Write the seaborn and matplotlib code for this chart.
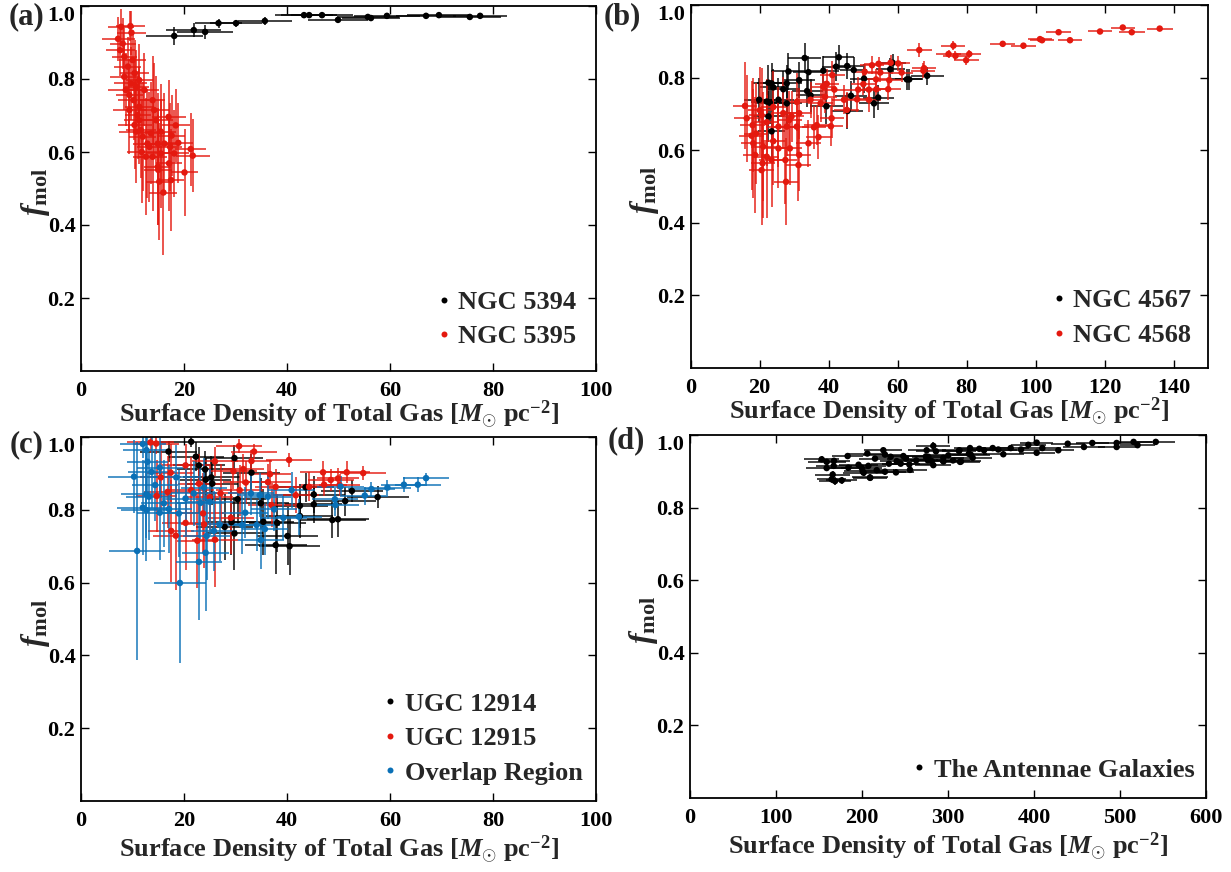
import numpy as np
import pandas as pd
import matplotlib
matplotlib.use("Agg")
import matplotlib.pyplot as plt
import seaborn as sns
from matplotlib.lines import Line2D
from matplotlib.ticker import FormatStrFormatter

# ---------------- data ----------------
# (a) NGC 5394 / NGC 5395
a_n5394_x = [18.1, 21.9, 24.1, 26.7, 30.1, 35.7, 43.3, 44.3, 46.8, 49.9, 55.7, 56.3, 59.4, 67.0, 69.5, 75.5, 77.5]
a_n5394_y = [0.918, 0.934, 0.929, 0.953, 0.953, 0.959, 0.975, 0.975, 0.975, 0.962, 0.970, 0.967, 0.973, 0.973, 0.975, 0.970, 0.973]
a_n5394_xe = [5.5, 5.3, 5.4, 4.5, 5.0, 5.3, 5.6, 5.5, 6.0, 5.8, 6.0, 5.6, 6.4, 5.8, 6.2, 6.0, 5.2]
a_n5394_ye = [0.025, 0.02, 0.02, 0.012, 0.01, 0.01, 0.006, 0.006, 0.006, 0.006, 0.005, 0.005, 0.005, 0.004, 0.004, 0.004, 0.004]

a_n5395_x = [7.2, 7.8, 9.6, 9.8, 7.6, 8.1, 8.4, 9.1, 10.0, 10.4, 9.7, 10.7, 10.2, 9.4, 11.3, 11.0, 10.4, 11.6,
             11.3, 10.7, 12.0, 13.9, 14.2, 14.6, 13.6, 14.9, 13.3, 13.9, 14.9, 15.2, 16.0, 15.5, 17.0, 18.4,
             17.6, 18.9, 17.3, 18.1, 17.1, 17.5, 20.1, 21.3, 21.7, 15.5, 12.9, 12.6, 15.0, 16.2, 9.4, 8.4,
             11.3, 12.3, 8.7, 11.8]
a_n5395_y = [0.910, 0.943, 0.945, 0.927, 0.879, 0.897, 0.861, 0.834, 0.852, 0.816, 0.788, 0.779, 0.742, 0.756,
             0.724, 0.701, 0.674, 0.660, 0.687, 0.656, 0.642, 0.742, 0.715, 0.687, 0.651, 0.623, 0.614, 0.587,
             0.560, 0.519, 0.489, 0.596, 0.696, 0.673, 0.645, 0.625, 0.614, 0.596, 0.569, 0.523, 0.544, 0.608,
             0.590, 0.656, 0.623, 0.587, 0.551, 0.623, 0.715, 0.806, 0.797, 0.770, 0.770, 0.600]
a_n5395_xe = [3.2, 2.5, 2.8, 2.9, 2.8, 2.5, 2.4, 2.6, 2.7, 2.8, 3.2, 2.6, 3.0, 2.7, 2.8, 2.5, 3.3, 2.9,
              3.0, 3.4, 2.6, 2.4, 2.9, 3.2, 2.7, 3.0, 2.5, 2.8, 2.6, 2.5, 2.7, 2.9, 3.3, 2.7,
              2.6, 2.9, 2.4, 2.8, 2.5, 2.5, 2.6, 3.0, 3.3, 3.0, 2.8, 2.5, 2.7, 3.1, 3.2, 2.8,
              2.6, 2.9, 3.4, 2.9]
a_n5395_ye = [0.06, 0.05, 0.04, 0.06, 0.07, 0.07, 0.08, 0.08, 0.08, 0.09, 0.10, 0.10, 0.11, 0.10, 0.11, 0.12, 0.12, 0.13,
              0.12, 0.14, 0.15, 0.12, 0.13, 0.12, 0.14, 0.14, 0.15, 0.15, 0.16, 0.16, 0.17, 0.15, 0.10, 0.10,
              0.11, 0.11, 0.12, 0.12, 0.13, 0.14, 0.12, 0.10, 0.10, 0.13, 0.15, 0.16, 0.15, 0.14, 0.12, 0.09,
              0.10, 0.10, 0.10, 0.14]

# (b) NGC 4567 / NGC 4568
b_n4567_x = [33.1, 43.0, 42.2, 45.4, 47.3, 38.5, 34.2, 28.4, 31.5, 50.3, 57.9, 58.6, 62.7, 63.4, 68.6, 22.6, 23.5,
             24.0, 26.9, 27.9, 33.8, 34.8, 46.5, 54.4, 53.2, 45.5, 39.4, 19.9, 22.1, 23.0, 27.9, 22.6, 23.5, 25.5]
b_n4567_y = [0.854, 0.856, 0.830, 0.832, 0.821, 0.819, 0.815, 0.817, 0.793, 0.797, 0.823, 0.841, 0.795, 0.795,
             0.805, 0.786, 0.784, 0.773, 0.768, 0.784, 0.763, 0.751, 0.750, 0.745, 0.729, 0.708, 0.721, 0.739,
             0.734, 0.731, 0.729, 0.693, 0.652, 0.739]
b_n4567_xe = [4.8, 4.5, 4.2, 4.5, 4.0, 4.5, 4.6, 5.0, 4.5, 4.0, 4.2, 4.0, 4.5, 4.0, 4.8, 4.5, 4.2,
              4.0, 4.8, 4.4, 4.5, 4.2, 4.6, 4.5, 4.4, 4.5, 4.8, 4.5, 4.6, 4.2, 4.5, 4.4, 4.0, 4.5]
b_n4567_ye = [0.04, 0.035, 0.04, 0.035, 0.035, 0.04, 0.045, 0.05, 0.05, 0.04, 0.03, 0.025, 0.03, 0.03, 0.025,
              0.05, 0.055, 0.05, 0.05, 0.05, 0.045, 0.045, 0.04, 0.035, 0.04, 0.05, 0.05, 0.06, 0.06, 0.06,
              0.06, 0.07, 0.07, 0.06]

b_n4568_x = [66.3, 76.2, 74.8, 76.8, 80.8, 79.9, 90.5, 96.5, 101.3, 101.9, 106.7, 110.0, 118.7, 125.3, 127.9, 136.0,
             67.7, 67.5, 60.2, 58.0, 54.5, 52.6, 61.2, 55.0, 50.5, 53.8, 57.6, 50.1, 53.9, 57.3, 51.7, 48.6,
             48.3, 51.7, 44.5, 41.1, 39.5, 38.5, 41.7, 39.0, 37.7, 45.3, 40.9, 36.6, 40.7, 35.8, 37.1, 34.2,
             34.8, 31.5, 29.3, 27.9, 30.8, 28.6, 31.5, 31.3, 28.8, 25.5, 27.5, 27.7, 24.0, 23.5, 20.9, 20.6,
             18.7, 18.2, 19.0, 16.3, 15.8, 18.0, 20.6, 22.1, 20.1, 24.0, 25.5, 26.9, 30.8, 21.1, 22.1, 17.7]
b_n4568_y = [0.876, 0.888, 0.865, 0.860, 0.865, 0.848, 0.893, 0.888, 0.906, 0.903, 0.925, 0.903, 0.927, 0.938,
             0.925, 0.935, 0.826, 0.819, 0.839, 0.841, 0.838, 0.834, 0.814, 0.814, 0.816, 0.795, 0.793, 0.782,
             0.768, 0.768, 0.767, 0.767, 0.740, 0.739, 0.739, 0.807, 0.783, 0.775, 0.767, 0.747, 0.729, 0.711,
             0.688, 0.669, 0.666, 0.663, 0.636, 0.619, 0.739, 0.702, 0.693, 0.665, 0.665, 0.683, 0.587, 0.559,
             0.605, 0.605, 0.573, 0.513, 0.625, 0.573, 0.564, 0.545, 0.587, 0.619, 0.646, 0.688, 0.722, 0.669,
             0.696, 0.677, 0.710, 0.719, 0.665, 0.702, 0.733, 0.610, 0.582, 0.640]
b_n4568_xe = [3.6, 3.5, 3.7, 3.6, 3.5, 3.6, 3.6, 3.7, 3.6, 3.5, 3.7, 3.6, 3.6, 3.5, 3.7, 3.8,
              3.6, 3.5, 3.5, 3.6, 3.5, 3.6, 3.4, 3.6, 3.5, 3.6, 3.5, 3.6, 3.5, 3.6, 3.5, 3.6,
              3.5, 3.6, 3.5, 3.6, 3.5, 3.6, 3.5, 3.6, 3.5, 3.6, 3.5, 3.6, 3.5, 3.6, 3.5, 3.6,
              3.5, 3.6, 3.5, 3.6, 3.5, 3.6, 3.5, 3.6, 3.5, 3.6, 3.5, 3.6, 3.5, 3.6, 3.5, 3.6,
              3.5, 3.6, 3.5, 3.6, 3.5, 3.6, 3.5, 3.6, 3.5, 3.6, 3.5, 3.6, 3.5, 3.6, 3.5, 3.6]
b_n4568_ye = [0.018, 0.012, 0.012, 0.012, 0.012, 0.012, 0.008, 0.008, 0.008, 0.008, 0.007, 0.007, 0.006, 0.006,
              0.006, 0.006, 0.02, 0.02, 0.02, 0.02, 0.02, 0.025, 0.025, 0.025, 0.025, 0.03, 0.03, 0.03,
              0.03, 0.03, 0.03, 0.035, 0.035, 0.035, 0.04, 0.04, 0.04, 0.045, 0.045, 0.045, 0.05, 0.05,
              0.055, 0.055, 0.055, 0.06, 0.06, 0.065, 0.05, 0.07, 0.07, 0.08, 0.08, 0.08, 0.10, 0.10,
              0.10, 0.11, 0.12, 0.12, 0.12, 0.13, 0.15, 0.15, 0.16, 0.15, 0.14, 0.12, 0.12, 0.13,
              0.13, 0.12, 0.12, 0.10, 0.11, 0.10, 0.08, 0.15, 0.17, 0.15]

# (c) UGC 12914 / UGC 12915 / Overlap Region
c_u12914_x = [21.4, 17.0, 22.3, 29.8, 22.9, 24.1, 25.3, 25.5, 33.1, 30.4, 27.9, 29.2, 29.8, 35.4, 38.1, 34.9,
              40.1, 37.8, 40.5, 42.5, 42.5, 45.2, 45.2, 48.8, 49.9, 51.3, 52.6, 57.6, 43.6, 24.2]
c_u12914_y = [0.987, 0.960, 0.946, 0.942, 0.922, 0.911, 0.889, 0.872, 0.902, 0.829, 0.753, 0.766, 0.735, 0.767,
              0.764, 0.818, 0.728, 0.703, 0.700, 0.783, 0.811, 0.842, 0.815, 0.772, 0.774, 0.824, 0.852, 0.835,
              0.862, 0.883]
c_u12914_xe = [6.0, 5.5, 5.5, 5.5, 5.0, 5.5, 5.5, 5.0, 5.5, 5.5, 5.5, 5.0, 5.5, 6.0, 5.5, 5.5,
               6.0, 6.0, 6.0, 6.5, 5.5, 6.0, 5.5, 6.5, 6.0, 6.0, 6.0, 6.0, 5.5, 5.0]
c_u12914_ye = [0.015, 0.03, 0.04, 0.035, 0.05, 0.05, 0.06, 0.06, 0.05, 0.07, 0.09, 0.09, 0.10, 0.09, 0.08, 0.07,
               0.08, 0.08, 0.08, 0.06, 0.06, 0.05, 0.05, 0.05, 0.05, 0.04, 0.03, 0.03, 0.04, 0.06]

c_u12915_x = [13.5, 14.6, 30.7, 33.6, 33.1, 26.0, 20.3, 29.6, 31.5, 36.7, 40.4, 32.0, 36.3, 37.8, 30.8, 47.0,
              48.5, 49.9, 51.6, 47.2, 50.2, 44.3, 41.7, 27.1, 25.0, 21.4, 22.9, 17.4, 15.5, 23.7, 20.3, 17.5,
              18.4, 22.6, 26.0, 23.9, 29.1, 37.0, 14.7, 16.8, 54.8]
c_u12915_y = [0.985, 0.982, 0.975, 0.960, 0.934, 0.933, 0.922, 0.906, 0.912, 0.898, 0.937, 0.875, 0.876, 0.863,
              0.854, 0.903, 0.882, 0.886, 0.903, 0.869, 0.868, 0.863, 0.840, 0.845, 0.835, 0.854, 0.872, 0.902,
              0.889, 0.790, 0.764, 0.742, 0.729, 0.715, 0.718, 0.760, 0.778, 0.813, 0.838, 0.849, 0.901]
c_u12915_xe = [4.5, 4.5, 4.5, 4.5, 4.0, 4.5, 4.5, 4.5, 4.0, 4.0, 4.5, 4.5, 4.5, 4.0, 4.5, 4.5,
               4.5, 4.0, 4.5, 4.5, 4.0, 4.5, 4.5, 4.5, 4.5, 4.5, 4.0, 4.5, 4.0, 4.5, 4.5, 4.5,
               4.5, 4.0, 4.5, 4.5, 4.5, 4.5, 4.0, 4.5, 4.5]
c_u12915_ye = [0.03, 0.03, 0.02, 0.02, 0.03, 0.04, 0.06, 0.05, 0.04, 0.04, 0.02, 0.06, 0.05, 0.05, 0.07, 0.03,
               0.03, 0.03, 0.03, 0.03, 0.03, 0.04, 0.05, 0.08, 0.09, 0.09, 0.08, 0.08, 0.09, 0.11, 0.13, 0.14,
               0.15, 0.13, 0.13, 0.12, 0.10, 0.06, 0.10, 0.10, 0.02]

c_overlap_x = [12.0, 12.7, 12.9, 13.7, 10.3, 15.3, 14.4, 12.7, 13.2, 12.0, 12.7, 16.1, 15.3, 17.1, 18.5, 19.0,
               20.3, 21.9, 23.9, 23.2, 25.0, 26.9, 24.4, 25.8, 24.2, 22.9, 19.2, 10.9, 31.3, 33.0, 34.7, 36.3,
               31.9, 34.1, 35.7, 34.9, 39.3, 40.9, 42.3, 37.5, 49.3, 49.4, 50.4, 55.1, 56.4, 59.5, 62.7, 65.4, 67.0]
c_overlap_y = [0.981, 0.964, 0.932, 0.904, 0.891, 0.916, 0.868, 0.843, 0.836, 0.806, 0.799, 0.818, 0.792, 0.802,
               0.889, 0.790, 0.831, 0.845, 0.861, 0.819, 0.822, 0.760, 0.728, 0.742, 0.682, 0.657, 0.599, 0.687,
               0.758, 0.845, 0.840, 0.836, 0.792, 0.758, 0.747, 0.717, 0.778, 0.854, 0.781, 0.801, 0.829, 0.813,
               0.864, 0.839, 0.857, 0.861, 0.869, 0.869, 0.887]
c_overlap_xe = [4.5, 4.5, 4.0, 4.5, 5.0, 4.5, 4.5, 5.0, 4.5, 5.0, 5.0, 4.5, 4.5, 4.5, 4.5, 4.5,
                4.5, 4.5, 4.5, 4.5, 4.5, 4.5, 4.5, 4.5, 4.5, 4.5, 5.0, 5.5, 4.5, 4.5, 4.5, 4.5,
                4.5, 4.5, 4.5, 4.5, 4.5, 4.5, 4.5, 4.5, 4.5, 4.5, 4.5, 4.5, 4.5, 4.5, 4.5, 4.5, 4.5]
c_overlap_ye = [0.04, 0.06, 0.08, 0.10, 0.10, 0.08, 0.10, 0.12, 0.12, 0.13, 0.14, 0.12, 0.13, 0.12, 0.09, 0.12,
                0.10, 0.09, 0.08, 0.10, 0.09, 0.10, 0.12, 0.11, 0.16, 0.16, 0.22, 0.30, 0.08, 0.06, 0.06, 0.06,
                0.07, 0.07, 0.07, 0.08, 0.06, 0.05, 0.05, 0.06, 0.03, 0.03, 0.03, 0.025, 0.02, 0.02, 0.02, 0.02, 0.015]

# (d) The Antennae Galaxies
d_ant_x = [153.1, 158.9, 167.4, 158.9, 167.1, 183.3, 184.1, 165.9, 164.7, 168.6, 176.4, 199.6, 200.8, 207.4, 209.3,
           206.2, 215.1, 224.8, 226.7, 217.1, 226.7, 239.5, 240.3, 248.1, 251.2, 255.8, 255.0, 233.3, 275.2, 277.1,
           282.9, 286.0, 282.9, 294.6, 300.4, 313.2, 314.0, 325.6, 326.4, 336.4, 341.9, 352.0, 358.5, 364.3, 372.9,
           384.9, 393.4, 403.1, 409.7, 403.1, 428.3, 439.2, 458.1, 467.8, 496.1, 496.1, 515.8, 520.4, 541.6, 196.0,
           201.9, 209.5, 231.3, 245.0, 263.0, 274.3, 276.6, 281.1, 294.7, 305.8, 315.1, 328.7, 324.2, 312.8]
d_ant_y = [0.933, 0.926, 0.929, 0.909, 0.915, 0.942, 0.910, 0.891, 0.878, 0.873, 0.875, 0.910, 0.900, 0.915, 0.883,
           0.949, 0.935, 0.958, 0.946, 0.903, 0.899, 0.897, 0.928, 0.942, 0.935, 0.904, 0.919, 0.940, 0.958, 0.940,
           0.970, 0.955, 0.917, 0.937, 0.944, 0.958, 0.926, 0.964, 0.946, 0.962, 0.958, 0.964, 0.960, 0.947, 0.964,
           0.960, 0.973, 0.979, 0.964, 0.951, 0.958, 0.976, 0.967, 0.978, 0.978, 0.967, 0.981, 0.972, 0.981, 0.918,
           0.896, 0.882, 0.921, 0.921, 0.930, 0.941, 0.930, 0.928, 0.927, 0.930, 0.927, 0.937, 0.948, 0.956]
d_ant_xe = [20, 22, 19, 24, 21, 18, 23, 20, 17, 19, 18, 24, 22, 20, 21, 23, 19, 22, 25, 20, 24, 21, 19, 23, 22,
            20, 24, 21, 22, 19, 20, 23, 21, 24, 22, 20, 23, 19, 22, 21, 20, 18, 22, 24, 21, 23, 20, 19, 22, 21,
            18, 20, 24, 19, 26, 22, 21, 20, 22, 23, 24, 20, 21, 22, 25, 23, 21, 24, 22, 20, 23, 22, 21, 20]
d_ant_ye = [0.008, 0.008, 0.008, 0.009, 0.008, 0.007, 0.008, 0.010, 0.010, 0.010, 0.009, 0.008, 0.008, 0.008, 0.009,
            0.007, 0.007, 0.006, 0.007, 0.008, 0.008, 0.008, 0.007, 0.006, 0.007, 0.008, 0.007, 0.007, 0.006, 0.007,
            0.010, 0.006, 0.008, 0.006, 0.006, 0.005, 0.007, 0.005, 0.006, 0.005, 0.005, 0.005, 0.005, 0.006, 0.005,
            0.005, 0.005, 0.008, 0.005, 0.006, 0.005, 0.004, 0.004, 0.004, 0.004, 0.004, 0.004, 0.004, 0.004, 0.007,
            0.008, 0.008, 0.007, 0.007, 0.006, 0.006, 0.006, 0.006, 0.006, 0.006, 0.006, 0.005, 0.005, 0.005]

BLACK = "#000000"
RED = "#e4190f"
BLUE = "#0a70b6"

panels = [
    dict(tag="(a)", xlim=(0, 100), xstep=20, xmax_tick=100,
         series=[("NGC 5394", a_n5394_x, a_n5394_y, a_n5394_xe, a_n5394_ye, BLACK),
                 ("NGC 5395", a_n5395_x, a_n5395_y, a_n5395_xe, a_n5395_ye, RED)],
         rect=[81, 6, 596, 371], leg=(0.962, 0.062), tagpos=(26, 17)),
    dict(tag="(b)", xlim=(0, 150), xstep=20, xmax_tick=140,
         series=[("NGC 4567", b_n4567_x, b_n4567_y, b_n4567_xe, b_n4567_ye, BLACK),
                 ("NGC 4568", b_n4568_x, b_n4568_y, b_n4568_xe, b_n4568_ye, RED)],
         rect=[690.5, 5, 1208, 368], leg=(0.968, 0.058), tagpos=(622, 17)),
    dict(tag="(c)", xlim=(0, 100), xstep=20, xmax_tick=100,
         series=[("UGC 12914", c_u12914_x, c_u12914_y, c_u12914_xe, c_u12914_ye, BLACK),
                 ("UGC 12915", c_u12915_x, c_u12915_y, c_u12915_xe, c_u12915_ye, RED),
                 ("Overlap Region", c_overlap_x, c_overlap_y, c_overlap_xe, c_overlap_ye, BLUE)],
         rect=[81, 437, 596, 801], leg=(0.974, 0.045), tagpos=(27, 445)),
    dict(tag="(d)", xlim=(0, 600), xstep=100, xmax_tick=600,
         series=[("The Antennae Galaxies", d_ant_x, d_ant_y, d_ant_xe, d_ant_ye, BLACK)],
         rect=[690, 435, 1206, 798], leg=(0.978, 0.045), tagpos=(626, 441)),
]

sns.set_style("ticks")
plt.rcParams["font.family"] = ["Liberation Serif", "DejaVu Serif"]
plt.rcParams["font.weight"] = "bold"
plt.rcParams["mathtext.fontset"] = "custom"
plt.rcParams["mathtext.rm"] = "Liberation Serif:bold"
plt.rcParams["mathtext.bf"] = "Liberation Serif:bold"
plt.rcParams["mathtext.it"] = "Liberation Serif:italic:bold"

W, H = 1231, 872
fig = plt.figure(figsize=(W / 100, H / 100), dpi=100)

for p in panels:
    l, t, r, b = p["rect"]
    ax = fig.add_axes([l / W, 1 - b / H, (r - l) / W, (b - t) / H])
    handles, labels = [], []
    for name, xs, ys, xe, ye, col in p["series"]:
        df = pd.DataFrame({"x": xs, "y": ys, "xe": xe, "ye": ye})
        ax.errorbar(df["x"], df["y"], xerr=df["xe"], yerr=df["ye"], fmt="none",
                    ecolor=col, elinewidth=1.3, alpha=0.8, capsize=0, zorder=2)
        sns.scatterplot(data=df, x="x", y="y", ax=ax, color=col, s=22,
                        edgecolor="none", linewidth=0, legend=False, zorder=3)
        handles.append(Line2D([], [], ls="", marker="o", markersize=4.3,
                              color=col, markeredgewidth=0))
        labels.append(name)
    ax.set_xlim(*p["xlim"])
    ax.set_ylim(0, 1.0)
    ax.set_xticks(np.arange(0, p["xmax_tick"] + 1, p["xstep"]))
    ax.set_yticks([0.2, 0.4, 0.6, 0.8, 1.0])
    ax.yaxis.set_major_formatter(FormatStrFormatter("%.1f"))
    ax.xaxis.set_major_formatter(FormatStrFormatter("%d"))
    ax.tick_params(direction="in", top=True, right=True, length=6, width=1.0,
                   labelsize=16, colors="black")
    ax.tick_params(axis="y", pad=4)
    ax.tick_params(axis="x", pad=7)
    for s in ax.spines.values():
        s.set_linewidth(1.3)
        s.set_color("black")
    ax.set_xlabel(r"Surface Density of Total Gas [$M_{\odot}$ pc$^{\mathbf{-2}}$]",
                  fontsize=19, fontweight="bold")
    ax.set_ylabel(r"$f_{\mathbf{mol}}$", fontsize=23)
    ax.xaxis.label.set_va("center")
    ax.yaxis.label.set_va("center")
    ax.xaxis.set_label_coords(0.5, -(44 if b < 400 else 49) / (b - t))
    ax.yaxis.set_label_coords(-46 / (r - l), 0.49)
    # top tick label sits just below the top edge, as in the reference
    fig.canvas.draw()
    ylabs = ax.get_yticklabels()
    ylabs[-1].set_va("top")
    ax.legend(handles, labels, loc="lower right", bbox_to_anchor=p["leg"],
              frameon=False, prop={"family": "Liberation Serif", "weight": "bold", "size": 19},
              handletextpad=0.25, handlelength=0.6, labelspacing=0.42,
              borderaxespad=0, borderpad=0)
    fig.text(p["tagpos"][0] / W, 1 - p["tagpos"][1] / H, p["tag"], fontsize=22,
             fontweight="bold", ha="center", va="center")

fig.savefig("out.png", dpi=100)
